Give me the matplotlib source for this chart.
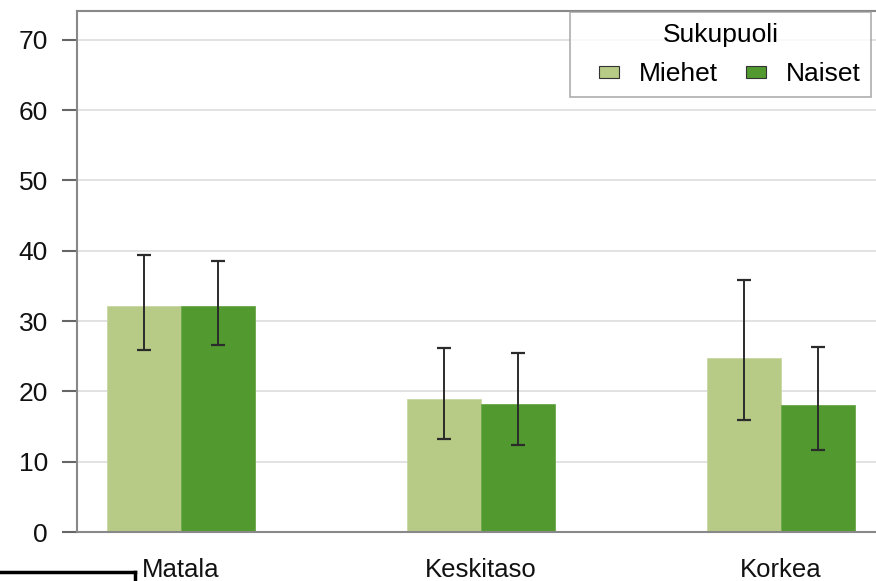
import matplotlib
matplotlib.use("Agg")
import matplotlib.pyplot as plt
from matplotlib.lines import Line2D
from matplotlib.patches import Rectangle
from matplotlib.legend_handler import HandlerPatch, update_from_first_child
from matplotlib.container import BarContainer
import numpy as np

plt.rcParams['font.family'] = ['Liberation Sans', 'DejaVu Sans']

categories = ["Matala", "Keskitaso", "Korkea"]
series_names = ["Miehet", "Naiset"]
miehet = [32.2, 18.9, 24.7]
miehet_low = [25.9, 13.2, 15.9]
miehet_high = [39.4, 26.2, 35.8]
naiset = [32.2, 18.2, 18.0]
naiset_low = [26.6, 12.4, 11.7]
naiset_high = [38.6, 25.5, 26.3]
yticks = [0, 10, 20, 30, 40, 50, 60, 70]
legend_title = "Sukupuoli"

col_m = "#b7ca86"
col_n = "#529a30"

fig = plt.figure(figsize=(8.76, 5.81), dpi=100)
ax = fig.add_axes([77/876, 1-532/581, (885-77)/876, (532-11)/581])

x = np.arange(len(categories))
w = 0.246
m = np.array(miehet); n = np.array(naiset)
err_m = [m - np.array(miehet_low), np.array(miehet_high) - m]
err_n = [n - np.array(naiset_low), np.array(naiset_high) - n]

ax.bar(x - w/2, m, w, color=col_m, edgecolor="#c9d8a4", linewidth=0.6, label=series_names[0], zorder=2)
ax.bar(x + w/2, n, w, color=col_n, edgecolor="#6aa84a", linewidth=0.6, label=series_names[1], zorder=2)
ax.errorbar(x - w/2, m, yerr=err_m, fmt='none', ecolor="#2b2b2b", elinewidth=1.4, capsize=4.7, capthick=1.6, zorder=3)
ax.errorbar(x + w/2, n, yerr=err_n, fmt='none', ecolor="#2b2b2b", elinewidth=1.4, capsize=4.7, capthick=1.6, zorder=3)

ax.set_xlim(-0.347, 2.347)
ax.set_ylim(0, 74.1)
ax.set_yticks(yticks)
ax.set_yticklabels([str(t) for t in yticks], fontsize=19, color="#111111")
ax.set_xticks(x)
ax.set_xticklabels(categories, fontsize=18.5, color="#111111")
ax.tick_params(axis='x', length=0, pad=18.5)
ax.tick_params(axis='y', length=11, width=1.5, color="#666666", pad=10)
ax.grid(axis='y', color="#dddddd", linewidth=1.2, zorder=0)
ax.set_axisbelow(True)
for s in ['left', 'top', 'bottom']:
    ax.spines[s].set_color("#888888")
    ax.spines[s].set_linewidth(1.5)
ax.spines['right'].set_visible(False)


def small_box(legend, orig_handle, xdescent, ydescent, width, height, fontsize):
    bw, bh = 14.4, 8.5
    return Rectangle((-xdescent + width - bw, -ydescent + (height - bh) / 2), bw, bh)


leg = fig.legend(loc='upper left', bbox_to_anchor=(570/876, 1-12/581), ncol=2,
                 title=legend_title, fontsize=19, title_fontsize=19,
                 frameon=True, fancybox=False, edgecolor="#999999",
                 handlelength=1.44, handleheight=0.7, handletextpad=0.76,
                 columnspacing=0.38, borderpad=0.4, borderaxespad=0,
                 labelspacing=0.6,
                 handler_map={BarContainer: HandlerPatch(patch_func=small_box,
                                                         update_func=update_from_first_child)})
leg._legend_box.align = "center"
leg.get_frame().set_linewidth(1.2)
for h in leg.legend_handles:
    h.set_edgecolor("#333333")
    h.set_linewidth(0.8)

fig.add_artist(Line2D([0, 135/876], [1-572/581, 1-572/581], color="black", linewidth=2.5, transform=fig.transFigure))
fig.add_artist(Line2D([135/876, 135/876], [1-572/581, 0], color="black", linewidth=2.5, transform=fig.transFigure))

fig.savefig("out.png", dpi=100)
